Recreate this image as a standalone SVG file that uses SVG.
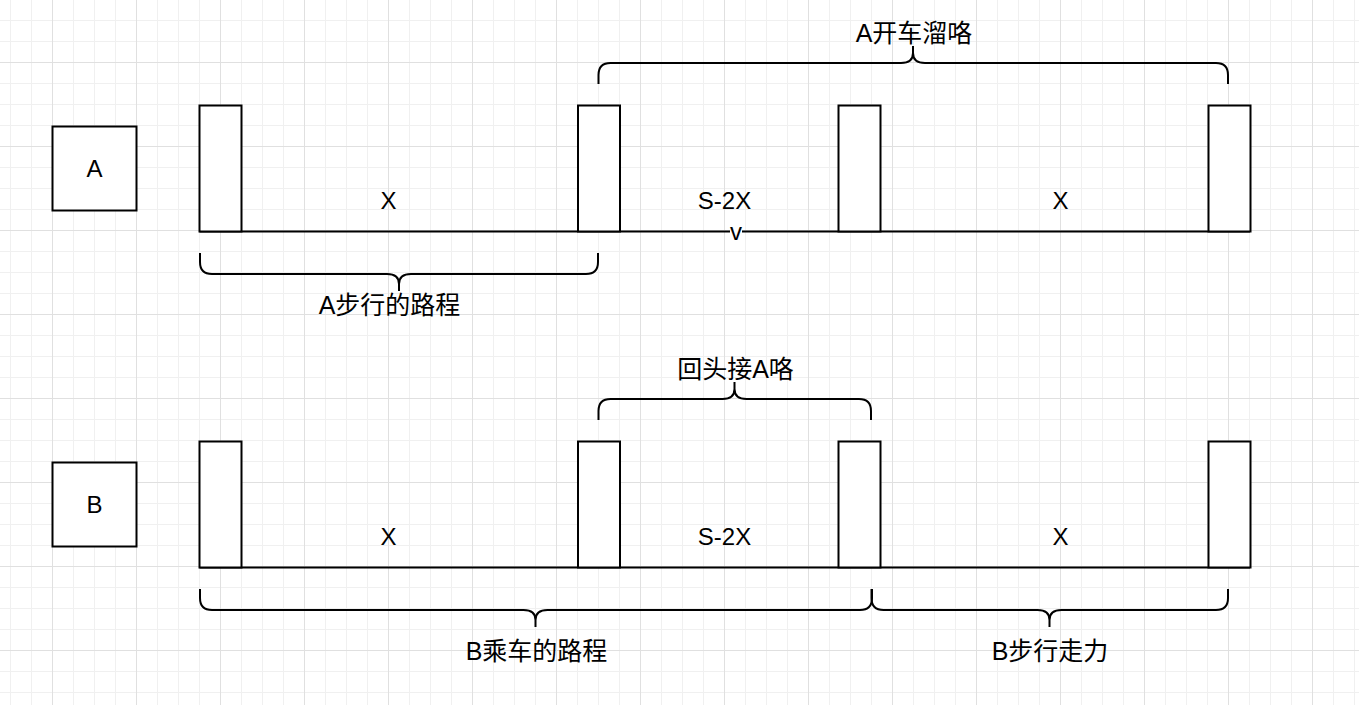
<svg xmlns="http://www.w3.org/2000/svg" width="1359" height="705" viewBox="0 0 1359 705">
  <style>
    .box { fill: #ffffff; stroke: #000000; stroke-width: 2; }
    .line { fill: none; stroke: #000000; stroke-width: 2; }
    .brace { fill: none; stroke: #000000; stroke-width: 2; stroke-linecap: butt; stroke-linejoin: round; }
    .t { font-family: "Liberation Sans", "Noto Sans CJK SC", sans-serif; font-size: 24px; fill: #000000; text-anchor: middle; }
    .c { font-size: 25px; }
  </style>
  <defs>
    <pattern id="grid" x="52" y="62" width="84" height="84" patternUnits="userSpaceOnUse">
      <path d="M21.5,0 V84 M42.5,0 V84 M63.5,0 V84 M0,21.5 H84 M0,42.5 H84 M0,63.5 H84" stroke="#f0f0f0" stroke-width="1" fill="none"/>
      <path d="M0.5,0 V84 M0,0.5 H84" stroke="#e0e0e0" stroke-width="1" fill="none"/>
    </pattern>
  </defs>
  <rect x="0" y="0" width="1359" height="705" fill="#ffffff"/>
  <rect x="0" y="0" width="1359" height="705" fill="url(#grid)"/>

  <g id="connectors">
    <path class="line" d="M199.5,231.5 H1250"/>
    <path class="line" d="M199.5,567.5 H1250"/>
    <rect x="730" y="226" width="12" height="12" fill="#ffffff"/>
    <text class="t" x="736" y="240">v</text>
  </g>

  <g id="rowA-label"><rect class="box" x="52.5" y="126.5" width="84" height="84"/><text class="t" x="94.5" y="176.5">A</text></g>
  <g id="rowA-p1"><rect class="box" x="199.5" y="105.5" width="42" height="126"/></g>
  <g id="rowA-p2"><rect class="box" x="578" y="105.5" width="42" height="126"/></g>
  <g id="rowA-p3"><rect class="box" x="838.5" y="105.5" width="42" height="126"/></g>
  <g id="rowA-p4"><rect class="box" x="1208.5" y="105.5" width="42" height="126"/></g>
  <g id="rowA-labels">
    <text class="t" x="388.5" y="208.5">X</text>
    <text class="t" x="724.5" y="208.5">S-2X</text>
    <text class="t" x="1060.5" y="208.5">X</text>
  </g>

  <g id="brace-A-drive">
    <path class="brace" d="M598.5,84 V75 Q598.5,63 610.5,63 H901 Q913,63 913,53 V46 M913,53 Q913,63 925,63 H1216 Q1228,63 1228,75 V84"/>
    <text class="t c" x="914" y="41.5">A开车溜咯</text>
  </g>
  <g id="brace-A-walk">
    <path class="brace" d="M200,253 V262 Q200,274 212,274 H387 Q399,274 399,284 V291 M399,284 Q399,274 411,274 H586 Q598,274 598,262 V253"/>
    <text class="t c" x="389.5" y="313.5">A步行的路程</text>
  </g>

  <g id="rowB-label"><rect class="box" x="52.5" y="462.5" width="84" height="84"/><text class="t" x="94.5" y="512.5">B</text></g>
  <g id="rowB-p1"><rect class="box" x="199.5" y="441.5" width="42" height="126"/></g>
  <g id="rowB-p2"><rect class="box" x="578" y="441.5" width="42" height="126"/></g>
  <g id="rowB-p3"><rect class="box" x="838.5" y="441.5" width="42" height="126"/></g>
  <g id="rowB-p4"><rect class="box" x="1208.5" y="441.5" width="42" height="126"/></g>
  <g id="rowB-labels">
    <text class="t" x="388.5" y="544.5">X</text>
    <text class="t" x="724.5" y="544.5">S-2X</text>
    <text class="t" x="1060.5" y="544.5">X</text>
  </g>

  <g id="brace-B-back">
    <path class="brace" d="M598.5,420 V411 Q598.5,399 610.5,399 H722.5 Q734.5,399 734.5,389 V382 M734.5,389 Q734.5,399 746.5,399 H859 Q871,399 871,411 V420"/>
    <text class="t c" x="735.5" y="377.5">回头接A咯</text>
  </g>
  <g id="brace-B-ride">
    <path class="brace" d="M200,589 V598 Q200,610 212,610 H523.5 Q535.5,610 535.5,620 V627 M535.5,620 Q535.5,610 547.5,610 H860 Q872,610 872,598 V589"/>
    <text class="t c" x="536.5" y="660">B乘车的路程</text>
  </g>
  <g id="brace-B-walk">
    <path class="brace" d="M871.5,589 V598 Q871.5,610 883.5,610 H1037.5 Q1049.5,610 1049.5,620 V627 M1049.5,620 Q1049.5,610 1061.5,610 H1216 Q1228,610 1228,598 V589"/>
    <text class="t c" x="1050" y="660">B步行走力</text>
  </g>
</svg>
